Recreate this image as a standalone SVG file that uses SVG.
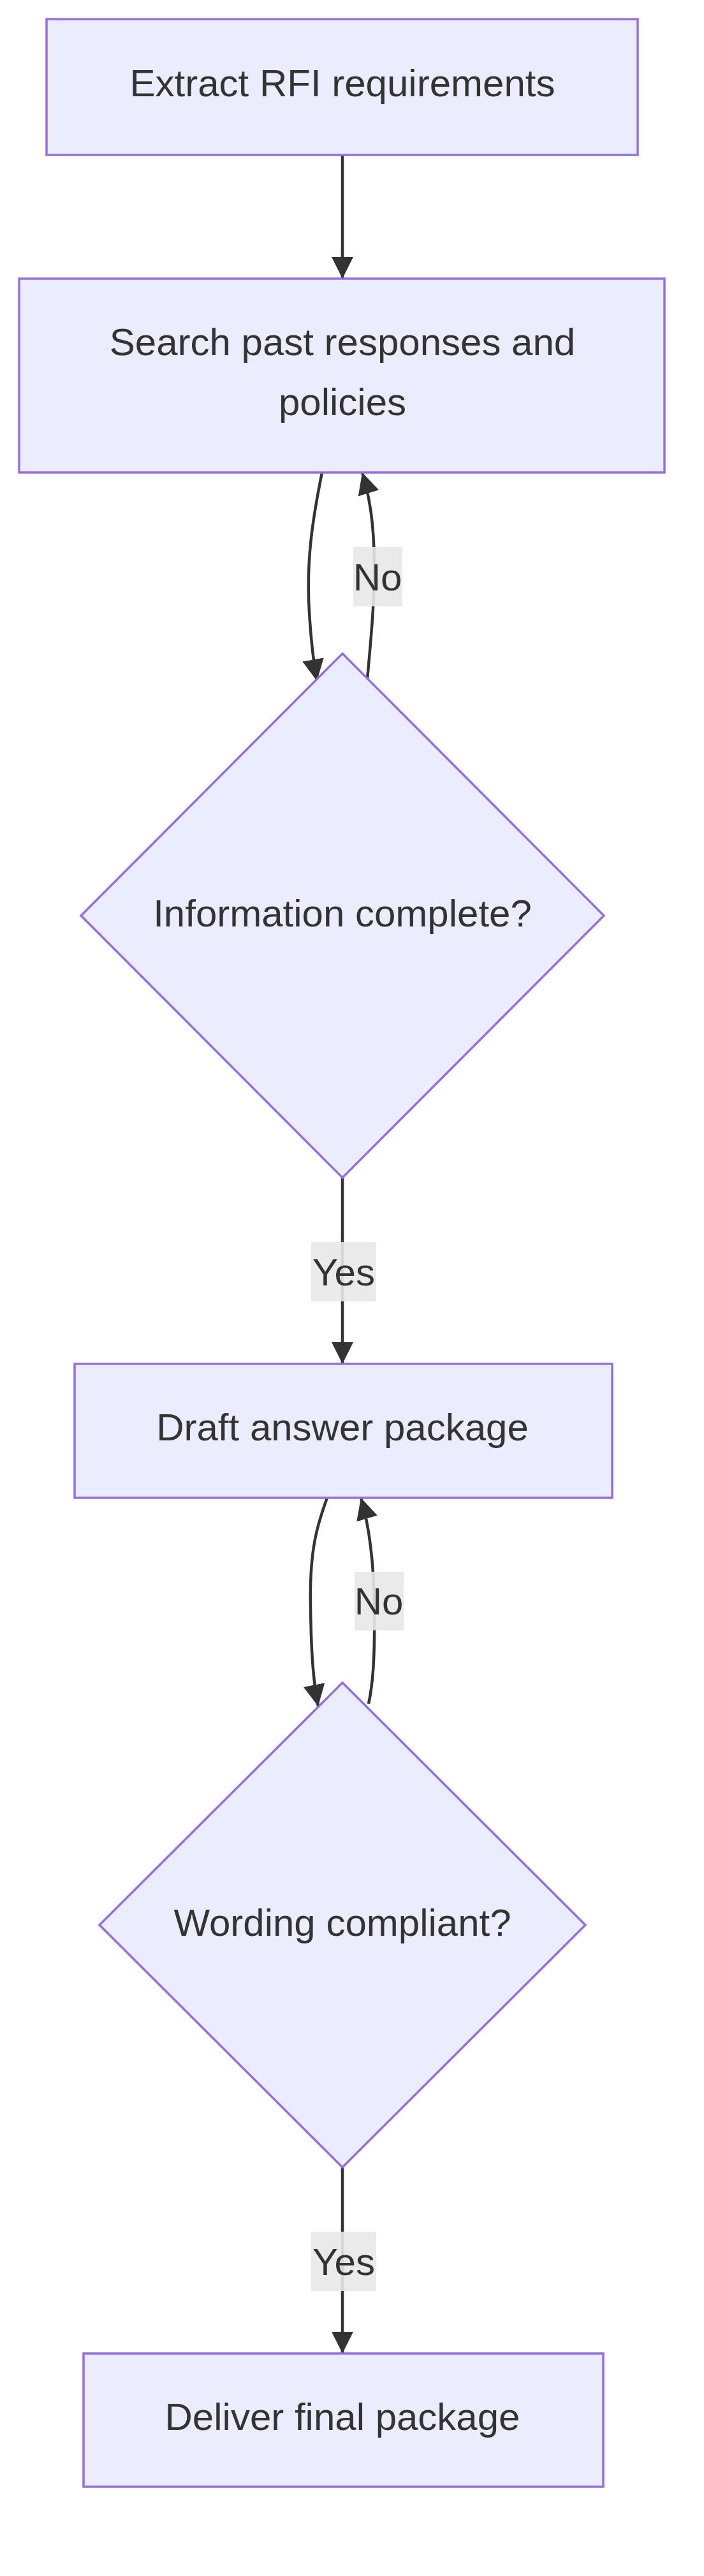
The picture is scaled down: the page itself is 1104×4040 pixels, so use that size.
<svg xmlns="http://www.w3.org/2000/svg" width="1104" height="4040" viewBox="0 0 1104 4040">
<style>
.n{fill:#ECECFF;stroke:#9370DB;stroke-width:3.5}
.t{font-family:"Liberation Sans",Arial,sans-serif;font-size:60px;fill:#333;text-anchor:middle;dominant-baseline:central}
.e{fill:none;stroke:#333;stroke-width:4.5}
.lb{fill:#e8e8e8;opacity:0.9}
</style>
<defs>
<marker id="a" viewBox="0 0 10 10" refX="9" refY="5" markerWidth="7" markerHeight="7" markerUnits="userSpaceOnUse" orient="auto" style="overflow:visible">
<path d="M0,0 L10,5 L0,10 z" fill="#333" transform="scale(1)"/>
</marker>
<marker id="m" viewBox="0 0 10 10" refX="10" refY="5" markerWidth="34" markerHeight="34" markerUnits="userSpaceOnUse" orient="auto">
<path d="M0,0 L10,5 L0,10 z" fill="#333"/>
</marker>
</defs>
<rect width="1104" height="4040" fill="#fff"/>
<g id="edges">
<path class="e" d="M537,243 L537,437" marker-end="url(#m)"/>
<path class="e" d="M505,741 C490,815 480,880 485,960 C488,1010 492,1040 497,1068" marker-end="url(#m)"/>
<path class="e" d="M576,1065 C581,1010 588,940 587,880 C586,820 580,780 568,741" marker-end="url(#m)"/>
<path class="e" d="M537,1847 L537,2139" marker-end="url(#m)"/>
<path class="e" d="M513,2349 C498,2390 485,2430 487,2520 C488,2600 492,2640 499,2676" marker-end="url(#m)"/>
<path class="e" d="M578,2672 C585,2640 588,2600 587,2518 C586,2440 578,2390 566,2349" marker-end="url(#m)"/>
<path class="e" d="M537,3399 L537,3691" marker-end="url(#m)"/>
<rect class="lb" x="554" y="858" width="77" height="93"/>
<text class="t" x="592" y="905">No</text>
<rect class="lb" x="488" y="1948" width="102" height="93"/>
<text class="t" x="539" y="1995">Yes</text>
<rect class="lb" x="556" y="2465" width="77" height="92"/>
<text class="t" x="594" y="2511">No</text>
<rect class="lb" x="488" y="3500" width="102" height="93"/>
<text class="t" x="539" y="3547">Yes</text>
</g>
<g id="n1"><rect class="n" x="73" y="30" width="927" height="213"/><text class="t" x="537" y="130">Extract RFI requirements</text></g>
<g id="n2"><rect class="n" x="30" y="437" width="1012" height="304"/><text class="t" x="537" y="536">Search past responses and</text><text class="t" x="537" y="630">policies</text></g>
<g id="n3"><polygon class="n" points="537,1025 947,1436 537,1847 127,1436"/><text class="t" x="537" y="1432">Information complete?</text></g>
<g id="n4"><rect class="n" x="117" y="2139" width="843" height="210"/><text class="t" x="537" y="2238">Draft answer package</text></g>
<g id="n5"><polygon class="n" points="537,2639 918,3019 537,3399 156,3019"/><text class="t" x="537" y="3015">Wording compliant?</text></g>
<g id="n6"><rect class="n" x="131" y="3691" width="815" height="209"/><text class="t" x="537" y="3790">Deliver final package</text></g>
</svg>
